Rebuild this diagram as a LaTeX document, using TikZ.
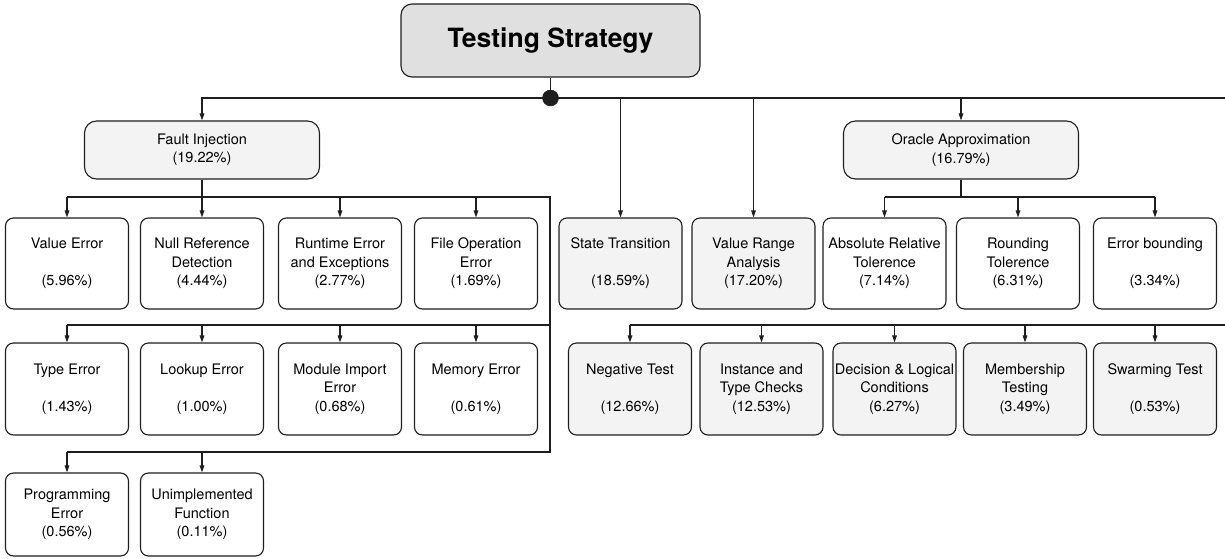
\documentclass[tikz,border=0pt]{standalone}
\usepackage{fontspec}
\setmainfont{TeX Gyre Heros}
\usetikzlibrary{arrows.meta}
\definecolor{edge}{HTML}{1E1E1E}
\definecolor{rootfill}{HTML}{E0E0E0}
\definecolor{softfill}{HTML}{F3F3F3}
\tikzset{
  box/.style={draw=edge, line width=1.1pt, rounded corners=8pt, inner sep=0pt,
    align=center, font=\fontsize{14.5pt}{18.5pt}\selectfont, fill=white},
  leaf/.style={box, minimum width=123pt, minimum height=91pt},
  leafg/.style={leaf, fill=softfill},
  group/.style={box, fill=softfill, rounded corners=12pt, minimum width=235pt, minimum height=58pt},
  rootbox/.style={box, fill=rootfill, rounded corners=11pt, minimum width=299pt, minimum height=73pt,
    font=\fontsize{26.5pt}{30pt}\selectfont\bfseries},
  wire/.style={draw=edge, line width=1.1pt},
  arr/.style={wire, -{Triangle[length=7pt,width=4.6pt]}}
}
\newcommand{\gapline}{\\[18.5pt]}
\begin{document}
\begin{tikzpicture}[x=1pt,y=-1pt]
\useasboundingbox (0,0) rectangle (1225,559);

% root and its junction
\node[rootbox] (root) at (550.5,40.5) {Testing Strategy};
\coordinate (eastA) at (1225,98);

% second level
\node[group] (fi) at (202,150) {Fault Injection\\(19.22\%)};
\node[group] (or) at (961,150) {Oracle Approximation\\(16.79\%)};
\node[leafg] (st) at (620.5,263.5) {State Transition\gapline(18.59\%)};
\node[leafg] (vr) at (753.5,263.5) {Value Range\\Analysis\\(17.20\%)};

% fault injection, first row
\node[leaf] (ve) at (67,263.5) {Value Error\gapline(5.96\%)};
\node[leaf] (nr) at (202,263.5) {Null Reference\\Detection\\(4.44\%)};
\node[leaf] (rt) at (340,263.5) {Runtime Error\\and Exceptions\\(2.77\%)};
\node[leaf] (fo) at (476,263.5) {File Operation\\Error\\(1.69\%)};

% fault injection, second row
\node[leaf, minimum height=92pt] (te) at (67,389) {Type Error\gapline(1.43\%)};
\node[leaf, minimum height=92pt] (le) at (202,389) {Lookup Error\gapline(1.00\%)};
\node[leaf, minimum height=92pt] (mi) at (340,389) {Module Import\\Error\\(0.68\%)};
\node[leaf, minimum height=92pt] (me) at (476,389) {Memory Error\gapline(0.61\%)};

% fault injection, third row
\node[leaf, minimum height=83pt] (pe) at (67,514.5) {Programming\\Error\\(0.56\%)};
\node[leaf, minimum height=83pt] (uf) at (202,514.5) {Unimplemented\\Function\\(0.11\%)};

% oracle approximation children
\node[leaf] (ar) at (884.5,263.5) {Absolute Relative\\Tolerence\\(7.14\%)};
\node[leaf] (rd) at (1018,263.5) {Rounding\\Tolerence\\(6.31\%)};
\node[leaf] (eb) at (1155,263.5) {Error bounding\gapline(3.34\%)};

% right lower row
\node[leafg, minimum height=92pt] (nt) at (630,389) {Negative Test\gapline(12.66\%)};
\node[leafg, minimum height=92pt] (it) at (761.5,389) {Instance and\\Type Checks\\(12.53\%)};
\node[leafg, minimum height=92pt] (dl) at (894.5,389) {Decision \& Logical\\Conditions\\(6.27\%)};
\node[leafg, minimum height=92pt] (mt) at (1025,389) {Membership\\Testing\\(3.49\%)};
\node[leafg, minimum height=92pt] (sw) at (1155,389) {Swarming Test\gapline(0.53\%)};

% main bus from the root
\node[circle, fill=edge, draw=edge, inner sep=0pt, minimum size=15pt] (dot) at (550.5,98) {};
\draw[wire] (root.south) -- (dot);
\draw[arr] (dot) -| (fi.north);
\draw[wire] (dot) -- (eastA);
\draw[arr] (dot) -| (st.north);
\draw[arr] (dot) -| (vr.north);
\draw[arr] (dot) -| (or.north);
\node[circle, fill=edge, draw=edge, inner sep=0pt, minimum width=14.5pt, minimum height=16pt] at (dot) {};

% fault injection buses
\coordinate (busA) at (550,197);
\coordinate (busB) at (550,325);
\coordinate (busC) at (550,452);
\draw[wire] (fi.south) -- (fi.south |- busA);
\draw[wire] (ve.north |- busA) -- (busA) -- (busC) -- (ve.north |- busC);
\draw[wire] (busB) -- (ve.north |- busB);
\foreach \n in {ve,nr,rt,fo} \draw[arr] (\n.north |- busA) -- (\n.north);
\foreach \n in {te,le,mi,me} \draw[arr] (\n.north |- busB) -- (\n.north);
\foreach \n in {pe,uf} \draw[arr] (\n.north |- busC) -- (\n.north);

% oracle approximation bus
\coordinate (orBus) at (961,197);
\draw[wire] (or.south) -- (orBus);
\draw[wire] (ar.north |- orBus) -- (eb.north |- orBus);
\foreach \n in {ar,rd,eb} \draw[arr] (\n.north |- orBus) -- (\n.north);

% right lower bus
\coordinate (eastB) at (1225,325);
\draw[wire] (nt.north |- eastB) -- (eastB);
\foreach \n in {nt,it,dl,mt,sw} \draw[arr] (\n.north |- eastB) -- (\n.north);
\end{tikzpicture}
\end{document}
